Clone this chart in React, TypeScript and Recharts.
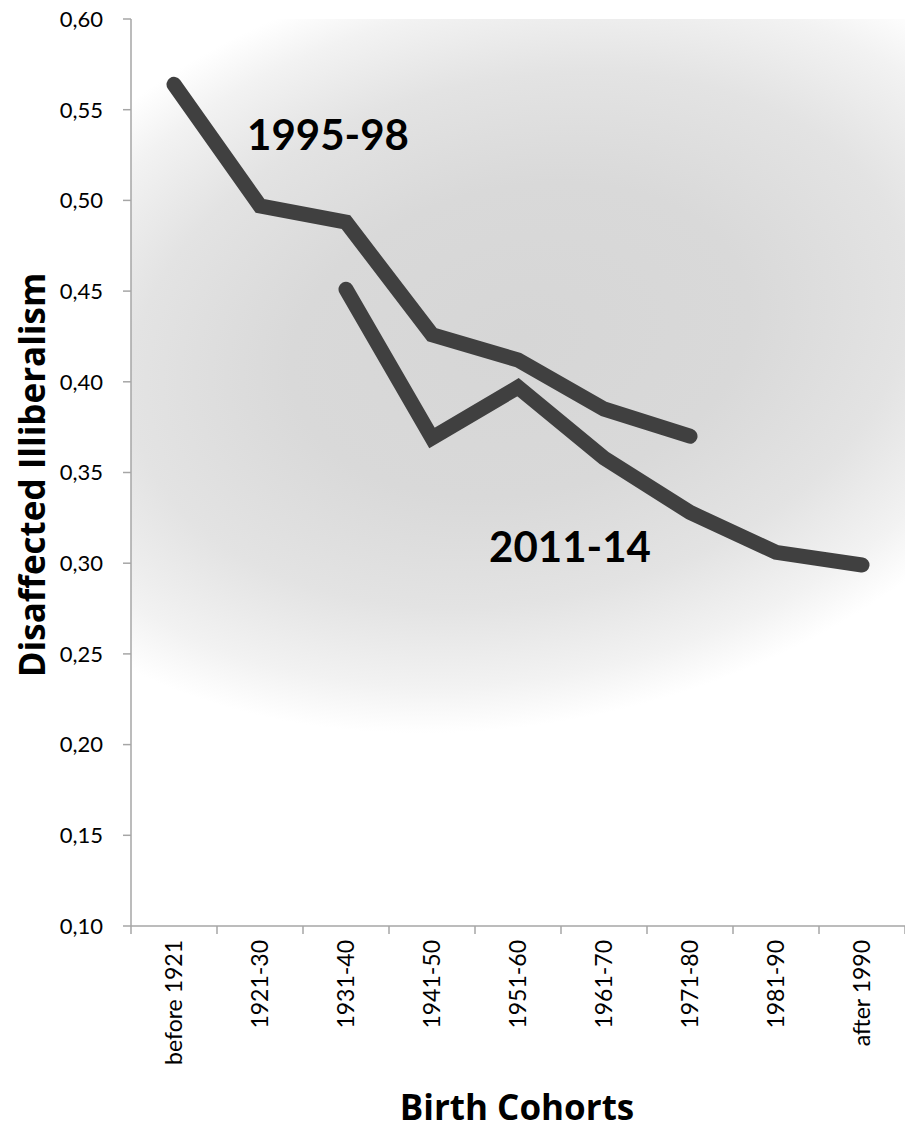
import React from 'react'
import { LineChart, Line, XAxis, YAxis, CartesianGrid } from 'recharts'

const cohorts = ['before 1921', '1921-30', '1931-40', '1941-50', '1951-60', '1961-70', '1971-80', '1981-90', 'after 1990']
const wave1995 = [0.564, 0.497, 0.488, 0.426, 0.412, 0.385, 0.370, null, null]
const wave2011 = [null, null, 0.451, 0.369, 0.397, 0.358, 0.328, 0.306, 0.299]
const yTicks = [0.1, 0.15, 0.2, 0.25, 0.3, 0.35, 0.4, 0.45, 0.5, 0.55, 0.6]

const data = cohorts.map((c, i) => ({ cohort: c, w1995: wave1995[i], w2011: wave2011[i] }))

const W = 905
const H = 1132
const PLOT_LEFT = 131
const PLOT_TOP = 19
const PLOT_BOTTOM = 926
const BAND = (W - PLOT_LEFT) / cohorts.length
const FONT = 'Lato, "Open Sans", sans-serif'
const BOLD_FONT = '"Open Sans", Lato, sans-serif'
const AXIS = '#a6a6a6'

function CohortTick(props: any) {
  const { x, y, payload, index } = props
  return (
    <g>
      <line x1={x - BAND / 2} y1={y} x2={x - BAND / 2} y2={y + 8} stroke={AXIS} strokeWidth={1.5} />
      {index === cohorts.length - 1 && (
        <line x1={x + BAND / 2} y1={y} x2={x + BAND / 2} y2={y + 8} stroke={AXIS} strokeWidth={1.5} />
      )}
      <text
        x={x + 8}
        y={y + 14}
        transform={`rotate(-90 ${x + 8} ${y + 14})`}
        textAnchor="end"
        fontSize={23}
        fontFamily={FONT}
        fill="#000"
      >
        {payload.value}
      </text>
    </g>
  )
}

export default function App() {
  return (
    <div style={{ position: 'absolute', left: 0, top: 0, width: W, height: H, background: '#fff' }}>
      <LineChart width={W} height={H} data={data} margin={{ top: PLOT_TOP, right: 0, left: 0, bottom: 0 }}>
        <defs>
          <radialGradient
            id="plotBg"
            gradientUnits="userSpaceOnUse"
            cx={520}
            cy={340}
            r={580}
            gradientTransform="translate(520 340) rotate(-12) scale(1 0.66) translate(-520 -340)"
          >
            <stop offset="0%" stopColor="#d6d6d6" />
            <stop offset="40%" stopColor="#d9d9d9" />
            <stop offset="68%" stopColor="#e3e3e3" />
            <stop offset="88%" stopColor="#f2f2f2" />
            <stop offset="100%" stopColor="#ffffff" />
          </radialGradient>
        </defs>
        <CartesianGrid horizontal={false} vertical={false} fill="url(#plotBg)" />
        <XAxis
          dataKey="cohort"
          height={H - PLOT_BOTTOM}
          interval={0}
          padding={{ left: BAND / 2, right: BAND / 2 }}
          tickLine={false}
          tickSize={0}
          tickMargin={0}
          stroke={AXIS}
          strokeWidth={1.5}
          tick={<CohortTick />}
        />
        <YAxis
          width={PLOT_LEFT}
          domain={[0.1, 0.6]}
          ticks={yTicks}
          tickFormatter={(v: number) => v.toFixed(2).replace('.', ',')}
          tick={{ fontSize: 22, fill: '#000', fontFamily: FONT }}
          tickSize={8}
          tickMargin={20}
          stroke={AXIS}
          strokeWidth={1.5}
        />
        <Line
          type="linear"
          dataKey="w1995"
          stroke="#404040"
          strokeWidth={15}
          strokeLinecap="round"
          dot={false}
          activeDot={false}
          isAnimationActive={false}
        />
        <Line
          type="linear"
          dataKey="w2011"
          stroke="#404040"
          strokeWidth={15}
          strokeLinecap="round"
          dot={false}
          activeDot={false}
          isAnimationActive={false}
        />
      </LineChart>
      <svg width={W} height={H} style={{ position: 'absolute', left: 0, top: 0, pointerEvents: 'none' }}>
        <text x={328} y={150} textAnchor="middle" fontSize={42} fontWeight={700} fontFamily={FONT} fill="#000">
          1995-98
        </text>
        <text x={570} y={562} textAnchor="middle" fontSize={42} fontWeight={700} fontFamily={FONT} fill="#000">
          2011-14
        </text>
        <text
          x={45}
          y={475}
          transform="rotate(-90 45 475)"
          textAnchor="middle"
          fontSize={35}
          fontWeight={700}
          fontFamily={BOLD_FONT}
          fill="#000"
        >
          Disaffected Illiberalism
        </text>
        <text x={517} y={1120} textAnchor="middle" fontSize={35} fontWeight={700} fontFamily={BOLD_FONT} fill="#000">
          Birth Cohorts
        </text>
      </svg>
    </div>
  )
}
